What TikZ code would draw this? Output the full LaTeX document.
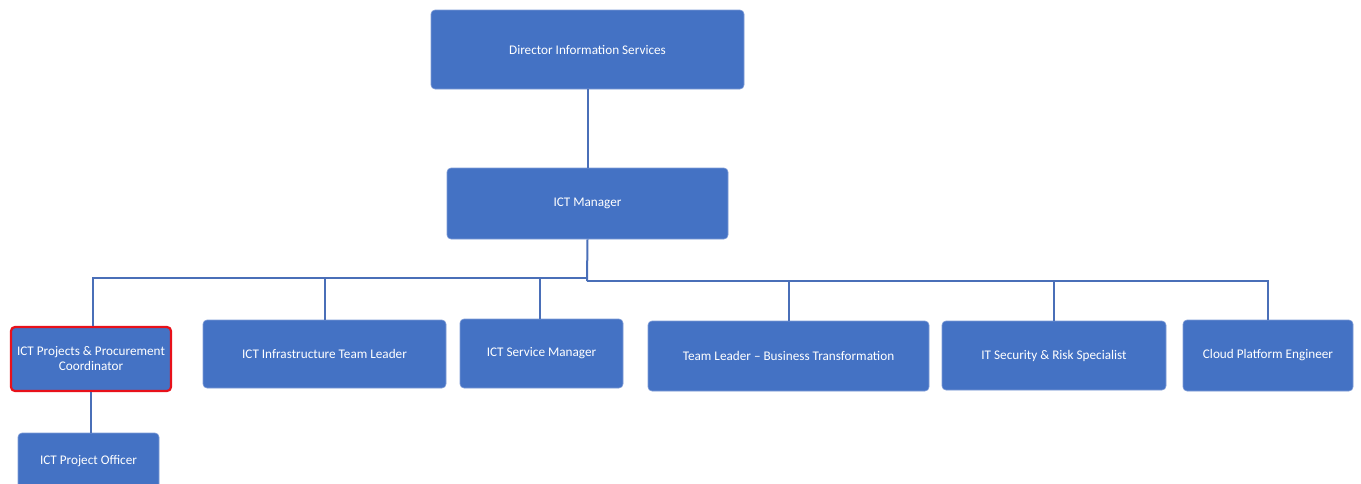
\documentclass[tikz,border=0pt]{standalone}
\usepackage{fontspec}
\setmainfont{Carlito}
\definecolor{roleblue}{HTML}{4472C4}
\definecolor{roleedge}{HTML}{7E9BD6}
\definecolor{linkblue}{HTML}{4A6FB8}
\definecolor{markred}{HTML}{E8111A}
\begin{document}
\begin{tikzpicture}[x=1pt,y=-1pt,
  role/.style={draw=roleedge, fill=roleblue, rounded corners=4pt, line width=0.6pt,
    text=white, font=\fontsize{13.2}{15}\selectfont, align=center, inner sep=0pt},
  marked/.style={draw=markred, line width=2.2pt},
  link/.style={draw=linkblue, line width=2pt}]
\clip (0,0) rectangle (1361,483);
% top of the tree
\node[role, minimum width=313pt, minimum height=79pt] (dir) at (587.5,49.5) {Director Information Services};
\node[role, minimum width=281pt, minimum height=71pt] (mgr) at (587.5,203.5) {ICT Manager};
% direct reports
\node[role, marked, minimum width=160pt, minimum height=64pt] (proj) at (91,359) {ICT Projects \& Procurement\\Coordinator};
\node[role, minimum width=243pt, minimum height=68pt] (infra) at (324.5,354) {ICT Infrastructure Team Leader};
\node[role, minimum width=163pt, minimum height=69pt] (svc) at (541.5,353.5) {ICT Service Manager};
\node[role, minimum width=281pt, minimum height=70pt] (btl) at (788.5,356) {Team Leader – Business Transformation};
\node[role, minimum width=224pt, minimum height=69pt] (sec) at (1054,355.5) {IT Security \& Risk Specialist};
\node[role, minimum width=170pt, minimum height=71pt] (cloud) at (1268,355.5) {Cloud Platform Engineer};
\node[role, minimum width=141pt, minimum height=56pt] (officer) at (88.5,461) {ICT Project Officer};
% bus
\coordinate (busL) at (587,278);
\coordinate (busR) at (587,281);
\draw[link] (dir.south) -- (mgr.north);
\draw[link] (mgr.south) -- (busR);
\draw[link] (busL) -| ([xshift=2pt]proj.north);
\draw[link] (busL) -| (infra.north);
\draw[link] ([xshift=-2pt]busL) -| ([xshift=-2pt]svc.north);
\draw[link] (busR) -| (btl.north);
\draw[link] (busR) -| (sec.north);
\draw[link] (busR) -| (cloud.north);
\draw[link] (proj.south) -- (proj.south |- officer.north);
\end{tikzpicture}
\end{document}
